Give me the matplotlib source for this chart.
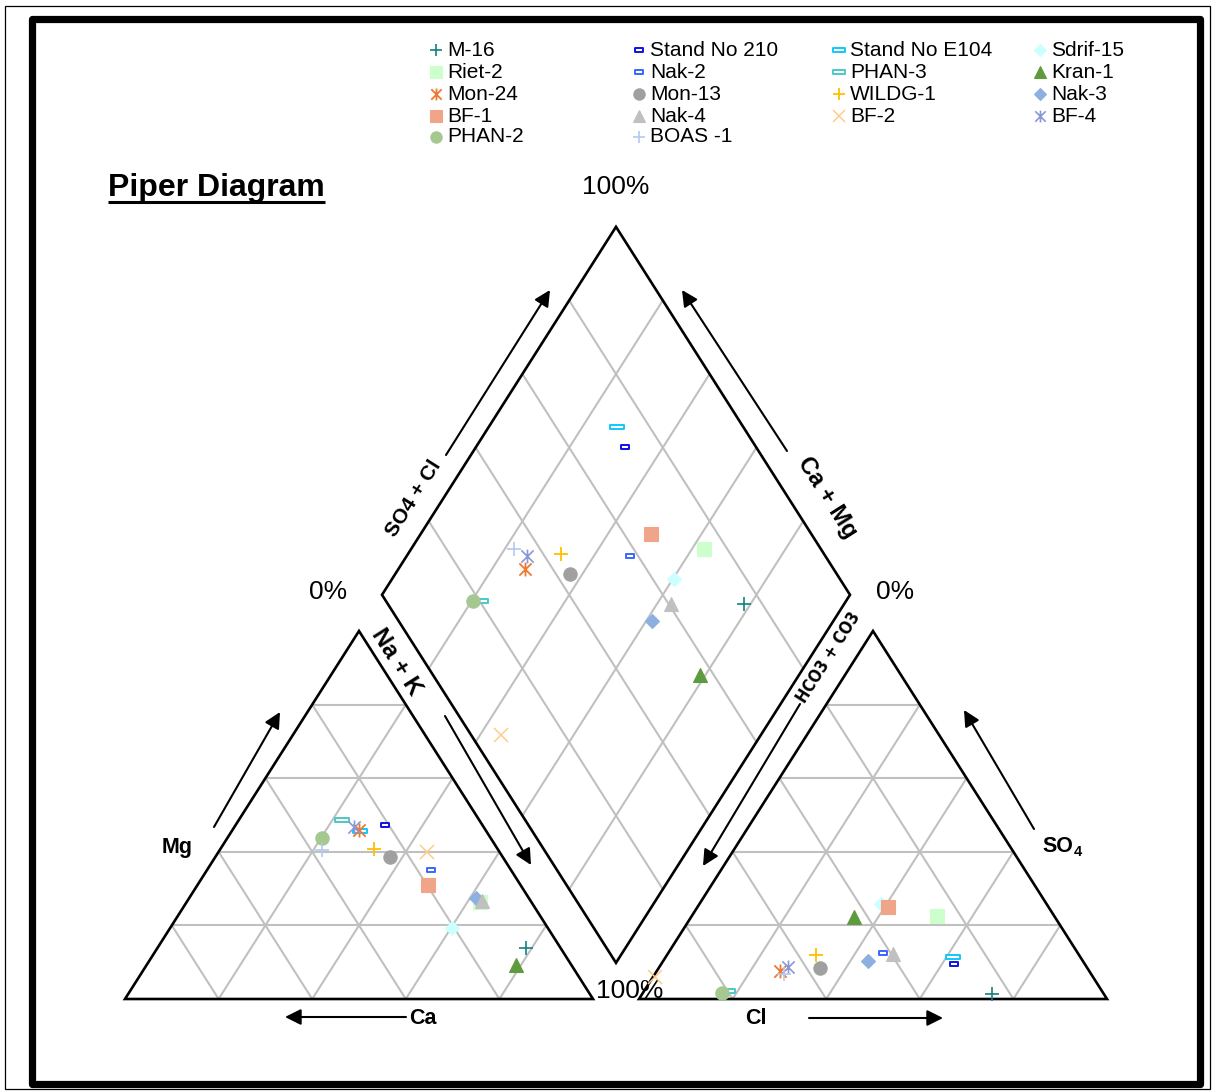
import numpy as np
import matplotlib
matplotlib.use("Agg")
import matplotlib.pyplot as plt
from matplotlib import font_manager
from matplotlib.font_manager import FontProperties
from matplotlib.path import Path
from matplotlib.patches import Rectangle, Polygon

plt.rcParams['font.family'] = ['Liberation Sans', 'DejaVu Sans']

# ---------------------------------------------------------------- data
samples = ["M-16", "Stand No 210", "Stand No E104", "Sdrif-15",
           "Riet-2", "Nak-2", "PHAN-3", "Kran-1",
           "Mon-24", "Mon-13", "WILDG-1", "Nak-3",
           "BF-1", "Nak-4", "BF-2", "BF-4",
           "PHAN-2", "BOAS -1"]

# cations, % of meq total
ca_pct = [7.5, 20.7, 26.9, 20.6, 11.1, 17.1, 29.4, 11.9, 27.1, 24.1, 26.4, 11.3,
          19.8, 10.5, 15.5, 27.6, 35.9, 37.6]
mg_pct = [13.8, 47.4, 45.7, 19.2, 26.3, 35.1, 48.6, 9.2, 45.9, 38.6, 40.8, 27.5,
          31.0, 26.6, 40.0, 46.8, 43.8, 40.5]
nak_pct = [78.7, 31.9, 27.4, 60.2, 62.6, 47.8, 22.0, 78.9, 27.0, 37.3, 32.8, 61.2,
           49.2, 62.9, 44.5, 25.6, 20.3, 21.9]

# anions, % of meq total
hco3_pct = [23.9, 28.0, 27.1, 35.4, 25.0, 41.7, 79.8, 43.0, 66.0, 57.1, 56.2, 45.8,
            34.3, 39.6, 93.5, 63.8, 81.5, 65.6]
so4_pct = [1.4, 9.4, 11.5, 25.8, 22.6, 12.4, 2.2, 22.2, 7.7, 8.3, 12.0, 10.4,
           24.9, 12.1, 6.1, 8.6, 1.6, 6.8]
cl_pct = [74.7, 62.6, 61.4, 38.8, 52.4, 45.9, 18.0, 34.8, 26.3, 34.6, 31.8, 43.8,
          40.8, 48.3, 0.4, 27.6, 16.9, 27.6]

# ---------------------------------------------------------------- marker styles
asterisk = Path([(0, -1), (0, 1), (-0.88, -0.88), (0.88, 0.88), (-0.88, 0.88), (0.88, -0.88)],
                [Path.MOVETO, Path.LINETO, Path.MOVETO, Path.LINETO, Path.MOVETO, Path.LINETO])
dash_small = Path([(-1, -0.45), (1, -0.45), (1, 0.45), (-1, 0.45), (-1, -0.45)],
                  [Path.MOVETO, Path.LINETO, Path.LINETO, Path.LINETO, Path.CLOSEPOLY])
dash_wide = Path([(-1, -0.26), (1, -0.26), (1, 0.26), (-1, 0.26), (-1, -0.26)],
                 [Path.MOVETO, Path.LINETO, Path.LINETO, Path.LINETO, Path.CLOSEPOLY])

styles = {
    "M-16":          dict(marker='+', color='#138282', ms=9.5, mew=1.2),
    "Stand No 210":  dict(marker=dash_small, color='#1010e8', ms=6, mew=1.4, mfc='white'),
    "Stand No E104": dict(marker=dash_wide, color='#10c8f8', ms=10, mew=1.4, mfc='white'),
    "Sdrif-15":      dict(marker='D', color='#ccffff', ms=6.8),
    "Riet-2":        dict(marker='s', color='#ccffcc', ms=10),
    "Nak-2":         dict(marker=dash_small, color='#3a66ff', ms=6, mew=1.4, mfc='white'),
    "PHAN-3":        dict(marker=dash_wide, color='#4cc8c8', ms=10, mew=1.4, mfc='white'),
    "Kran-1":        dict(marker='^', color='#5e9a3e', ms=10),
    "Mon-24":        dict(marker=asterisk, color='#f07830', ms=10, mew=1.3),
    "Mon-13":        dict(marker='o', color='#a0a0a0', ms=9.6),
    "WILDG-1":       dict(marker='+', color='#ffc000', ms=9.5, mew=1.3),
    "Nak-3":         dict(marker='D', color='#8db0e0', ms=6.8),
    "BF-1":          dict(marker='s', color='#f0a488', ms=10),
    "Nak-4":         dict(marker='^', color='#c0c0c0', ms=10),
    "BF-2":          dict(marker='x', color='#ffcc88', ms=10, mew=1.1),
    "BF-4":          dict(marker=asterisk, color='#8898d8', ms=10, mew=1.2),
    "PHAN-2":        dict(marker='o', color='#a4c890', ms=9.6),
    "BOAS -1":       dict(marker='+', color='#b4c8f0', ms=9.5, mew=1.2),
}

# ---------------------------------------------------------------- geometry (pixel space)
X0, YB = 125.0, 999.0      # bottom-left corner of the cation triangle
W, H = 468.0, 368.0        # triangle base and height
GAP = 46.0                 # gap between the two triangles

CAT = np.array([[X0, YB], [X0 + W, YB], [X0 + W / 2, YB - H]])
AN_X0 = X0 + W + GAP
AN = np.array([[AN_X0, YB], [AN_X0 + W, YB], [AN_X0 + W / 2, YB - H]])
DB = np.array([X0 + W + GAP / 2, YB - (GAP / 2) * H / (W / 2)])   # diamond bottom
DL = DB + np.array([-W / 2, -H])
DR = DB + np.array([W / 2, -H])
DT = DB + np.array([0, -2 * H])

GRID = '#c0c0c0'

fig = plt.figure(figsize=(12.16, 10.91), dpi=100)
ax = fig.add_axes([0, 0, 1, 1])
ax.set_xlim(0, 1216)
ax.set_ylim(1091, 0)
ax.axis('off')


def tri_grid(v):
    a, b, t = v
    for f in (0.2, 0.4, 0.6, 0.8):
        segs = [(a + f * (t - a), b + f * (t - b))]
        p = a + f * (b - a)
        segs.append((p, p + (1 - f) * (t - a)))
        p = b + f * (a - b)
        segs.append((p, p + (1 - f) * (t - b)))
        for p, q in segs:
            ax.plot([p[0], q[0]], [p[1], q[1]], color=GRID, lw=1.5, zorder=1,
                    solid_capstyle='butt')
    ax.add_patch(Polygon(v, closed=True, fill=False, ec='black', lw=1.9, zorder=3,
                         joinstyle='miter'))


tri_grid(CAT)
tri_grid(AN)

for f in (0.2, 0.4, 0.6, 0.8):
    p = DL + f * (DB - DL)
    q = p + (DR - DB)
    ax.plot([p[0], q[0]], [p[1], q[1]], color=GRID, lw=1.5, zorder=1)
    p = DR + f * (DB - DR)
    q = p + (DL - DB)
    ax.plot([p[0], q[0]], [p[1], q[1]], color=GRID, lw=1.5, zorder=1)
ax.add_patch(Polygon([DB, DL, DT, DR], closed=True, fill=False, ec='black', lw=1.9,
                     zorder=3, joinstyle='miter'))

# ---------------------------------------------------------------- points
ca = np.array(ca_pct) / 100
mg = np.array(mg_pct) / 100
nak = np.array(nak_pct) / 100
hco3 = np.array(hco3_pct) / 100
so4 = np.array(so4_pct) / 100
cl = np.array(cl_pct) / 100

cat_x = X0 + W * (nak + mg / 2)
cat_y = YB - H * mg
an_x = AN_X0 + W * (cl + so4 / 2)
an_y = YB - H * so4
dia = DB[None, :] + (1 - nak)[:, None] * (DL - DB)[None, :] + (1 - hco3)[:, None] * (DR - DB)[None, :]

for i, name in enumerate(samples):
    st = dict(styles[name])
    col = st.pop('color')
    ms = st.pop('ms')
    mew = st.pop('mew', 0.8)
    mfc = st.pop('mfc', col)
    mk = st.pop('marker')
    xs = [cat_x[i], an_x[i], dia[i, 0]]
    ys = [cat_y[i], an_y[i], dia[i, 1]]
    ax.plot(xs, ys, linestyle='none', marker=mk, ms=ms, mew=mew, mec=col, mfc=mfc,
            zorder=5 + i * 0.01)

# ---------------------------------------------------------------- legend
leg_x = [436, 639, 839, 1040]
leg_y = [50, 72, 94, 116, 137]
for i, name in enumerate(samples):
    r, c = divmod(i, 4)
    st = dict(styles[name])
    col = st.pop('color')
    ms = st.pop('ms') * 0.85
    mew = st.pop('mew', 0.8)
    mfc = st.pop('mfc', col)
    mk = st.pop('marker')
    ax.plot([leg_x[c]], [leg_y[r]], linestyle='none', marker=mk, ms=ms, mew=mew,
            mec=col, mfc=mfc, zorder=5)
    ax.text(leg_x[c] + 11, leg_y[r], name, fontsize=15, va='center', ha='left')

# ---------------------------------------------------------------- title
title = ax.text(108, 196, "Piper Diagram", fontsize=23, fontweight='bold',
                va='baseline', ha='left')
fig.canvas.draw()
inv = ax.transData.inverted()
bb = title.get_window_extent().transformed(inv)
ax.plot([min(bb.x0, bb.x1), max(bb.x0, bb.x1)], [202, 202], color='black', lw=2.2,
        solid_capstyle='butt')

# ---------------------------------------------------------------- labels
ang = np.degrees(np.arctan2(H, W / 2))
ax.text(DT[0], 187, "100%", fontsize=19, ha='center', va='center')
ax.text(DL[0] - 54, DL[1] - 3, "0%", fontsize=19, ha='center', va='center')
ax.text(DR[0] + 45, DR[1] - 3, "0%", fontsize=19, ha='center', va='center')
ax.text(630, 991, "100%", fontsize=19, ha='center', va='center', zorder=4)

ax.text(414, 498, "SO4 + Cl", fontsize=15, fontweight='bold', rotation=ang,
        ha='center', va='center', rotation_mode='anchor')
ax.text(827, 497, "Ca + Mg", fontsize=17, fontweight='bold', rotation=-ang,
        ha='center', va='center', rotation_mode='anchor')
ax.text(397, 662, "Na + K", fontsize=17, fontweight='bold', rotation=-ang,
        ha='center', va='center', rotation_mode='anchor')

# a condensed face suits the long carbonate label, if one is available
narrow = [f.fname for f in font_manager.fontManager.ttflist
          if ('Condensed' in f.fname or 'Narrow' in f.fname) and 'Bold' in f.fname
          and 'Oblique' not in f.fname and 'Italic' not in f.fname
          and ('DejaVuSans' in f.fname or 'Liberation' in f.fname)]
if narrow:
    ax.text(829, 657, "HCO3 + CO3", fontproperties=FontProperties(fname=narrow[0], size=12),
            rotation=ang, ha='center', va='center', rotation_mode='anchor')
else:
    ax.text(829, 657, "HCO3 + CO3", fontsize=11.5, fontweight='bold', rotation=ang,
            ha='center', va='center', rotation_mode='anchor')

ax.text(177, 847, "Mg", fontsize=15.5, fontweight='bold', ha='center', va='center')
ax.text(423, 1019, "Ca", fontsize=15.5, fontweight='bold', ha='center', va='center')
ax.text(756, 1019, "Cl", fontsize=15.5, fontweight='bold', ha='center', va='center')
so_txt = ax.text(1042, 852, "SO", fontsize=15.5, fontweight='bold', ha='left',
                 va='baseline')
fig.canvas.draw()
sb = so_txt.get_window_extent().transformed(inv)
ax.text(max(sb.x0, sb.x1) + 1, 856, "4", fontsize=10.5, fontweight='bold',
        ha='left', va='baseline')

# ---------------------------------------------------------------- arrows
arrows = [((214, 827), (280, 712)),     # Mg
          ((406, 1017), (285, 1017)),   # Ca
          ((445, 716), (531, 865)),     # Na + K
          ((446, 455), (550, 290)),     # SO4 + Cl
          ((787, 451), (682, 290)),     # Ca + Mg
          ((800, 704), (703, 866)),     # HCO3 + CO3
          ((809, 1018), (943, 1018)),   # Cl
          ((1034, 829), (964, 710))]    # SO4
for tail, tip in arrows:
    ax.annotate('', xy=tip, xytext=tail,
                arrowprops=dict(arrowstyle='-|>', color='black', lw=1.5,
                                mutation_scale=24, shrinkA=0, shrinkB=0))

# ---------------------------------------------------------------- frame
ax.add_patch(Rectangle((31.5, 19), 1200 - 31.5, 1084 - 19, fill=False, ec='black',
                       lw=5.2, joinstyle='round', zorder=6))
ax.add_patch(Rectangle((5, 6), 1205, 1083, fill=False, ec='black', lw=0.9, zorder=6))

fig.savefig("out.png", dpi=100)
